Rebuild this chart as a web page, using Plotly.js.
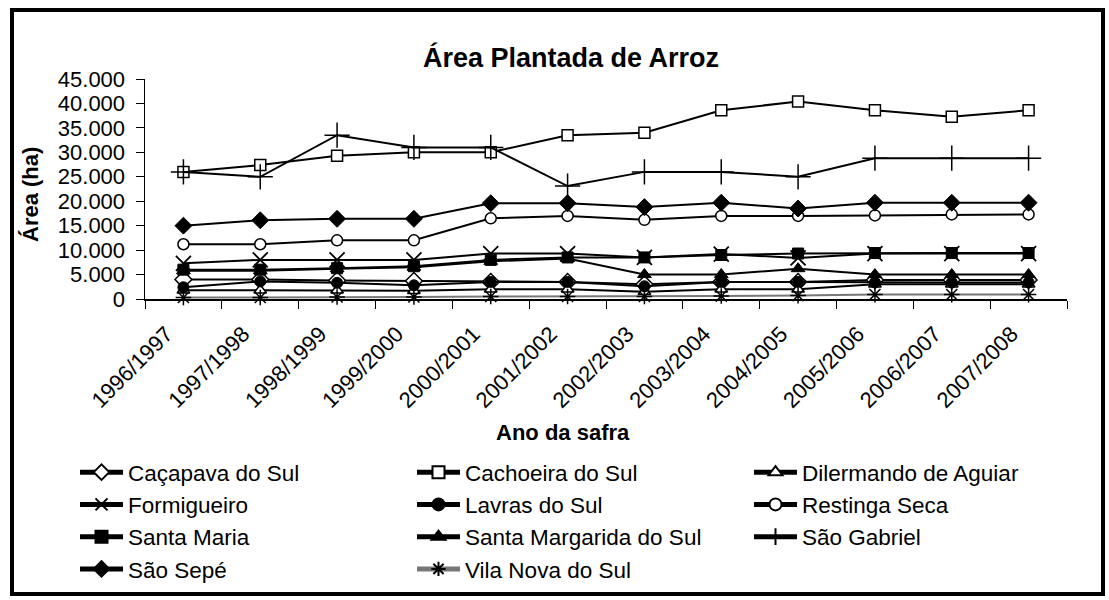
<!DOCTYPE html>
<html>
<head>
<meta charset="utf-8">
<script src="https://cdn.plot.ly/plotly-3.0.1.min.js"></script>
<style>
html,body{margin:0;padding:0;background:#fff;}
#chart{width:1109px;height:600px;}
</style>
</head>
<body>
<div id="chart"></div>
<script>
const safras = ["1996/1997","1997/1998","1998/1999","1999/2000","2000/2001","2001/2002","2002/2003","2003/2004","2004/2005","2005/2006","2006/2007","2007/2008"];

const cacapavaDoSul     = [4000, 4000, 3800, 3700, 3500, 3500, 3000, 3500, 3500, 3900, 3900, 3900];
const cachoeiraDoSul    = [26000, 27400, 29300, 30000, 30000, 33500, 34000, 38600, 40400, 38600, 37300, 38600];
const dilermandoAguiar  = [1800, 1800, 1800, 1700, 2000, 2000, 1500, 2000, 2000, 3000, 3000, 3000];
const formigueiro       = [7300, 8000, 8000, 8000, 9300, 9300, 8500, 9200, 8400, 9300, 9300, 9300];
const lavrasDoSul       = [2400, 3600, 3300, 2800, 3500, 3500, 2600, 3500, 3500, 3400, 3400, 3400];
const restingaSeca      = [11200, 11200, 12000, 12000, 16500, 17000, 16200, 17000, 17000, 17100, 17300, 17300];
const santaMaria        = [6000, 6000, 6300, 6700, 8000, 8500, 8500, 9000, 9300, 9400, 9400, 9400];
const santaMargarida    = [5800, 5800, 6200, 6500, 7700, 8300, 5000, 5000, 6200, 5000, 5000, 5000];
const saoGabriel        = [26000, 25000, 33500, 31000, 31000, 23100, 26000, 26000, 25000, 28800, 28800, 28800];
const saoSepe           = [15000, 16100, 16400, 16400, 19600, 19600, 18800, 19700, 18500, 19700, 19700, 19700];
const vilaNovaDoSul     = [300, 300, 400, 400, 500, 500, 500, 600, 700, 900, 900, 900];

const seriesNames = ["Caçapava do Sul","Cachoeira do Sul","Dilermando de Aguiar","Formigueiro","Lavras do Sul","Restinga Seca","Santa Maria","Santa Margarida do Sul","São Gabriel","São Sepé","Vila Nova do Sul"];
const seriesValues = [cacapavaDoSul, cachoeiraDoSul, dilermandoAguiar, formigueiro, lavrasDoSul, restingaSeca, santaMaria, santaMargarida, saoGabriel, saoSepe, vilaNovaDoSul];

const styles = [
  {symbol:"diamond", color:"#fff", size:13, lw:1.5},
  {symbol:"square", color:"#fff", size:11, lw:1.5},
  {symbol:"triangle-up", color:"#fff", size:11, lw:1.5},
  {symbol:"x-thin-open", color:"#000", size:15, lw:1.8},
  {symbol:"circle", color:"#000", size:11, lw:1},
  {symbol:"circle", color:"#fff", size:11, lw:1.5},
  {symbol:"square", color:"#000", size:11, lw:1},
  {symbol:"triangle-up", color:"#000", size:12, lw:1},
  {symbol:"cross-thin-open", color:"#000", size:18, lw:1.5},
  {symbol:"diamond", color:"#000", size:13, lw:1},
  {symbol:"asterisk-open", color:"#000", size:13, lw:1.5}
];

const traces = seriesNames.map((name, i) => ({
  type: "scatter",
  mode: "lines+markers",
  name: name,
  x: safras,
  y: seriesValues[i],
  line: {color: i === 10 ? "#777" : "#000", width: 2},
  marker: {symbol: styles[i].symbol, size: styles[i].size, color: styles[i].color,
           line: {color: "#000", width: styles[i].lw}},
  cliponaxis: false
}));

const L = 145, R = 1067, T = 79, B = 299;
const PW = R - L, PH = B - T;
const px = v => (v - L) / PW;
const py = v => (B - v) / PH;

const layout = {
  width: 1109, height: 600,
  margin: {l: L, r: 1109 - R, t: T, b: 600 - B, autoexpand: false},
  paper_bgcolor: "#fff", plot_bgcolor: "#fff",
  separators: ",.",
  font: {family: "Liberation Sans, Arial, sans-serif", color: "#000", size: 22},
  title: {text: "<b>Área Plantada de Arroz</b>", font: {size: 27, color: "#000"},
          xref: "paper", x: px(571), xanchor: "center", yref: "container", y: 1 - 58/600, yanchor: "middle"},
  showlegend: true,
  legend: {orientation: "h", x: px(75), xanchor: "left", y: py(451), yanchor: "top",
           font: {size: 22.5}, entrywidth: 279, entrywidthmode: "pixels", itemsizing: "constant",
           itemwidth: 43, tracegroupgap: 0, bgcolor: "rgba(0,0,0,0)"},
  xaxis: {type: "category", showline: true, linecolor: "#000", linewidth: 1.5, automargin: false,
          ticks: "outside", ticklen: 8, tickcolor: "#000", tickson: "boundaries",
          tickangle: -45, showgrid: false, zeroline: false, tickfont: {size: 22},
          ticklabelstandoff: 12, ticklabelshift: -17,
          range: [-0.5, 11.5]},
  yaxis: {range: [0, 45000], dtick: 5000, tickformat: ",d", showline: true, linecolor: "#000",
          linewidth: 1.5, ticks: "outside", ticklen: 8, tickcolor: "#000", showgrid: false, automargin: false,
          zeroline: false, tickfont: {size: 22}, ticklabelstandoff: 6},
  annotations: [
    {text: "<b>Área (ha)</b>", xref: "paper", yref: "paper", x: px(30), y: py(195),
     textangle: -90, showarrow: false, font: {size: 22}, xanchor: "center", yanchor: "middle"},
    {text: "<b>Ano da safra</b>", xref: "paper", yref: "paper", x: px(563), y: py(432),
     showarrow: false, font: {size: 22}, xanchor: "center", yanchor: "middle"}
  ],
  shapes: [
    {type: "rect", xref: "paper", yref: "paper", x0: px(12), x1: px(1103), y0: py(594), y1: py(10),
     line: {color: "#000", width: 4}, fillcolor: "rgba(0,0,0,0)", layer: "above"}
  ]
};

Plotly.newPlot("chart", traces, layout, {displayModeBar: false, staticPlot: true});
</script>
</body>
</html>
